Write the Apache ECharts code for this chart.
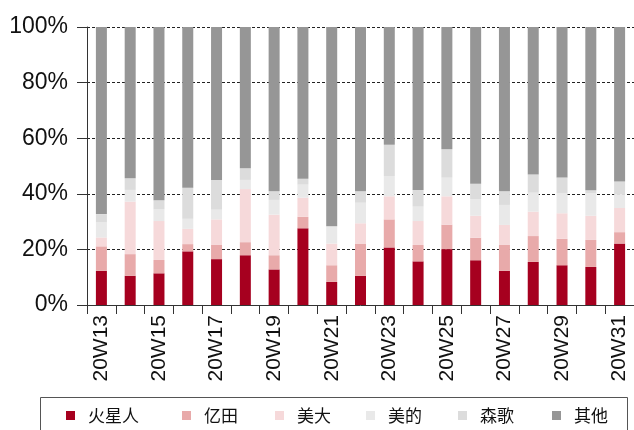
<!DOCTYPE html>
<html>
<head>
<meta charset="utf-8">
<script src="https://cdn.jsdelivr.net/npm/echarts@6/dist/echarts.min.js"></script>
<style>
  html, body { margin: 0; padding: 0; background: #fff; }
  #graph { width: 634px; height: 430px; }
</style>
</head>
<body>
<div id="graph"></div>
<script>
var weeks = ['20W13', '20W14', '20W15', '20W16', '20W17', '20W18', '20W19', '20W20', '20W21', '20W22',
  '20W23', '20W24', '20W25', '20W26', '20W27', '20W28', '20W29', '20W30', '20W31'];
var yTicks = [0, 20, 40, 60, 80, 100];

var brandNames = ['火星人', '亿田', '美大', '美的', '森歌', '其他'];
var brandColors = ['#a6001f', '#e8aaaa', '#f6d9da', '#e9e9e9', '#dcdcdc', '#969696'];

// share of sales, %
var huoxingren = [12.3, 10.5, 11.4, 19.3, 16.5, 17.9, 12.8, 27.6, 8.3, 10.5, 20.7, 15.7, 20.1, 16.1, 12.3, 15.5, 14.3, 13.7, 22.1];
var yitian     = [8.8, 7.8, 4.8, 2.6, 5.1, 4.7, 5.1, 4.1, 6.0, 11.6, 10.1, 5.9, 8.8, 8.1, 9.3, 9.3, 9.5, 9.7, 4.1];
var meida      = [3.2, 18.9, 14.0, 5.5, 9.2, 19.1, 14.6, 6.9, 7.8, 7.3, 8.3, 8.6, 10.2, 7.9, 7.2, 8.8, 9.2, 8.7, 8.7];
var midea      = [5.4, 4.2, 4.2, 3.6, 3.5, 3.3, 5.3, 4.7, 6.2, 7.4, 7.3, 5.2, 6.7, 6.0, 7.2, 6.8, 7.3, 8.1, 5.0];
var sennge     = [3.0, 4.2, 3.3, 11.2, 10.7, 4.2, 3.1, 2.1, 0.0, 4.1, 11.2, 6.0, 10.2, 5.5, 4.9, 6.5, 5.6, 1.1, 4.5];
var others     = [67.3, 54.4, 62.3, 57.8, 55.0, 50.8, 59.1, 54.6, 71.7, 59.1, 42.4, 58.6, 44.0, 56.4, 59.1, 53.1, 54.1, 58.7, 55.6];

var seriesData = [huoxingren, yitian, meida, midea, sennge, others];
var legendLeft = [66, 182, 275, 366, 458, 552];

var chart = echarts.init(document.getElementById('graph'));

var series = brandNames.map((name, i) => ({
  name: name,
  type: 'bar',
  stack: 'total',
  barWidth: 11,
  itemStyle: { color: brandColors[i] },
  data: seriesData[i]
}));

var legends = brandNames.map((name, i) => ({
  data: [name],
  left: legendLeft[i],
  top: 407,
  padding: 0,
  itemWidth: 9,
  itemHeight: 9,
  icon: 'rect',
  selectedMode: false,
  textStyle: {
    fontFamily: '"Noto Sans CJK SC", sans-serif',
    fontSize: 17,
    color: '#111',
    padding: [0, 0, 0, 8]
  }
}));

var option = {
  backgroundColor: '#fff',
  animation: false,
  grid: { left: 87, top: 27, width: 549, height: 278 },
  legend: legends,
  graphic: [{
    type: 'rect',
    shape: { x: 40.5, y: 397.5, width: 587, height: 50 },
    style: { fill: 'none', stroke: '#555', lineWidth: 1 }
  }],
  xAxis: {
    type: 'category',
    data: weeks,
    boundaryGap: true,
    axisLine: { lineStyle: { color: '#333', width: 1 } },
    axisTick: { show: true, length: 9, inside: false, interval: 0, lineStyle: { color: '#333' } },
    axisLabel: {
      interval: 1,
      rotate: 90,
      margin: 10,
      fontFamily: '"Liberation Sans", Arial, sans-serif',
      fontSize: 21,
      color: '#111'
    }
  },
  yAxis: {
    type: 'value',
    min: yTicks[0],
    max: yTicks[yTicks.length - 1],
    interval: 20,
    axisLine: { show: true, lineStyle: { color: '#333', width: 1 } },
    axisTick: { show: true, length: 10, lineStyle: { color: '#333' } },
    axisLabel: {
      formatter: '{value}%',
      margin: 19,
      fontFamily: '"Liberation Sans", Arial, sans-serif',
      fontSize: 23,
      color: '#111'
    },
    splitLine: { show: true, lineStyle: { color: '#222', type: [3, 2], width: 1 } }
  },
  series: series
};

chart.setOption(option);
</script>
</body>
</html>
